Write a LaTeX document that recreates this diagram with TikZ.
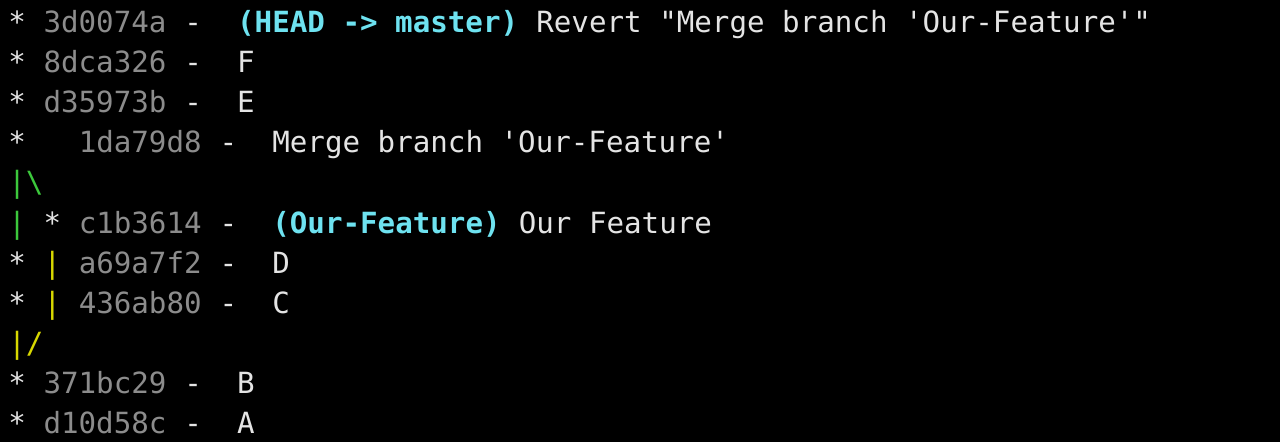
\documentclass[tikz,border=0pt]{standalone}
\usepackage{fontspec}
\setmonofont{DejaVu Sans Mono}
\definecolor{termbg}{HTML}{000000}
\definecolor{termfg}{HTML}{E4E4E4}
\definecolor{termhash}{HTML}{8C8C8C}
\definecolor{termcyan}{HTML}{6EE2F0}
\definecolor{termgreen}{HTML}{3CC83C}
\definecolor{termyellow}{HTML}{D8D800}
% text at column #2, row #3 of the terminal
\newcommand\termtext[4][termfg]{\node[anchor=base west,inner sep=0pt,text=#1,font=\ttfamily\fontsize{16.6pt}{20pt}\selectfont] (t-#3-#2) at(0.16+#2*0.352, -0.66-#3*0.8) {#4};}

\begin{document}
\begin{tikzpicture}
  \fill[termbg](0,0)rectangle(25.6,-8.84);
  \useasboundingbox(0,0)rectangle(25.6,-8.84);

  \termtext{0}{0}{*}
  \termtext[termhash]{2}{0}{3d0074a}
  \termtext{10}{0}{-}
  \termtext[termcyan]{13}{0}{\bfseries(HEAD -> master)}
  \termtext{30}{0}{Revert "Merge branch 'Our-Feature'"}

  \termtext{0}{1}{*}
  \termtext[termhash]{2}{1}{8dca326}
  \termtext{10}{1}{-}
  \termtext{13}{1}{F}

  \termtext{0}{2}{*}
  \termtext[termhash]{2}{2}{d35973b}
  \termtext{10}{2}{-}
  \termtext{13}{2}{E}

  \termtext{0}{3}{*}
  \termtext[termhash]{4}{3}{1da79d8}
  \termtext{12}{3}{-}
  \termtext{15}{3}{Merge branch 'Our-Feature'}

  \termtext[termgreen]{0}{4}{|\textbackslash}

  \termtext[termgreen]{0}{5}{|}
  \termtext{2}{5}{*}
  \termtext[termhash]{4}{5}{c1b3614}
  \termtext{12}{5}{-}
  \termtext[termcyan]{15}{5}{\bfseries(Our-Feature)}
  \termtext{29}{5}{Our Feature}

  \termtext{0}{6}{*}
  \termtext[termyellow]{2}{6}{|}
  \termtext[termhash]{4}{6}{a69a7f2}
  \termtext{12}{6}{-}
  \termtext{15}{6}{D}

  \termtext{0}{7}{*}
  \termtext[termyellow]{2}{7}{|}
  \termtext[termhash]{4}{7}{436ab80}
  \termtext{12}{7}{-}
  \termtext{15}{7}{C}

  \termtext[termyellow]{0}{8}{|/}

  \termtext{0}{9}{*}
  \termtext[termhash]{2}{9}{371bc29}
  \termtext{10}{9}{-}
  \termtext{13}{9}{B}

  \termtext{0}{10}{*}
  \termtext[termhash]{2}{10}{d10d58c}
  \termtext{10}{10}{-}
  \termtext{13}{10}{A}
\end{tikzpicture}
\end{document}
